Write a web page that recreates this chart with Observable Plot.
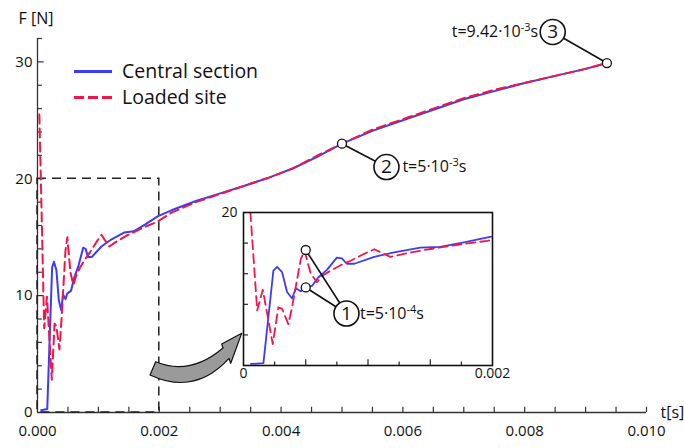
<!DOCTYPE html>
<html><head><meta charset="utf-8">
<script src="https://cdn.jsdelivr.net/npm/d3@7"></script>
<script src="https://cdn.jsdelivr.net/npm/@observablehq/plot@0.6"></script>
<style>
body{margin:0;background:#fff;}
#wrap{position:relative;width:684px;height:448px;}
#wrap svg{position:absolute;}
</style></head><body><div id="wrap"></div>
<script>
// ---- data ----
const centralT = [0.00006, 0.00016, 0.00024, 0.00027, 0.00031, 0.00035, 0.00039, 0.00042, 0.00046, 0.00049, 0.00055, 0.0006, 0.00067, 0.00075, 0.00079, 0.00083, 0.00089, 0.00105, 0.00121, 0.00142, 0.00158, 0.00177, 0.00198, 0.0022, 0.0026, 0.003, 0.0034, 0.0038, 0.0042, 0.0046, 0.005, 0.0055, 0.006, 0.0065, 0.007, 0.0075, 0.008, 0.0085, 0.009, 0.00935];
const centralF = [0.2, 0.3, 12.4, 12.9, 12.2, 9.6, 8.75, 10.1, 9.7, 10.2, 10.4, 11.5, 12.5, 14.1, 14.0, 13.3, 13.3, 14.2, 14.8, 15.4, 15.5, 16.1, 16.8, 17.3, 18.1, 18.75, 19.4, 20.1, 20.9, 21.9, 23.0, 24.1, 25.0, 25.9, 26.8, 27.5, 28.2, 28.8, 29.4, 29.9];
const loadedT = [0.00003, 0.000056, 0.00011, 0.000155, 0.000235, 0.00028, 0.00031, 0.00036, 0.00039, 0.00046, 0.00049, 0.00054, 0.00059, 0.00064, 0.0007, 0.00078, 0.00086, 0.00097, 0.00105, 0.0011, 0.00118, 0.00129, 0.00145, 0.00161, 0.00177, 0.00196, 0.0022, 0.0026, 0.003, 0.0034, 0.0038, 0.0042, 0.0046, 0.005, 0.0055, 0.006, 0.0065, 0.007, 0.0075, 0.008, 0.0085, 0.009, 0.00935];
const loadedF = [25.5, 19.8, 7.2, 9.9, 2.8, 7.6, 7.4, 5.4, 7.6, 13.9, 15.0, 12.0, 10.9, 11.8, 12.4, 13.1, 13.7, 14.6, 15.2, 14.8, 14.2, 14.6, 15.1, 15.5, 15.9, 16.3, 17.1, 18.0, 18.7, 19.4, 20.1, 20.9, 22.0, 23.0, 24.2, 25.1, 26.0, 26.9, 27.6, 28.2, 28.8, 29.4, 29.9];
const seriesNames = ["Central section", "Loaded site"];
const xTickLabels = [0, 0.002, 0.004, 0.006, 0.008, 0.010];
const yTickLabels = [0, 10, 20, 30];
const insetXLabels = [0, 0.002];
const insetYLabels = [20];
// annotation markers (time, force of marked point; label circle; text)
const mainMarks = [
  {n: "2", t: 0.005, F: 23.0, ct: 0.00573, cF: 21.0, tt: 0.006, base: "t=5·10", exp: "-3", anchor: "start"},
  {n: "3", t: 0.00935, F: 29.9, ct: 0.00846, cF: 32.56, tt: 0.00823, base: "t=9.42·10", exp: "-3", anchor: "end"}
];
const insetMarks = [
  {n: "1", pts: [{t: 0.0005, F: 15.1}, {t: 0.0005, F: 10.2}], ct: 0.000827, cF: 6.8, tt: 0.00094, base: "t=5·10", exp: "-4"}
];
// curved arrow outline (data units of main chart)
const arrowPts = {
  a: [0.001949, 4.30], c1: [0.002512, 3.08], b: [0.003054, 5.48],
  w1: [0.003033, 5.82], tip: [0.003361, 6.73], w2: [0.003181, 4.17],
  d: [0.003153, 4.58], c2: [0.002594, 1.37], e: [0.001856, 3.17]
};

const central = centralT.map((t, i) => ({t, F: centralF[i]}));
const loaded = loadedT.map((t, i) => ({t, F: loadedF[i]}));

const BLUE = "#3c3cf6", RED = "#f0164a", AX = "#333", FONT = "'Open Sans', sans-serif";

const xMinor = d3.range(1, 21).map(i => i * 0.0005);
const yMinor = d3.range(1, 17).map(i => i * 2);

const main = Plot.plot({
  width: 684, height: 448,
  marginLeft: 37, marginRight: 38, marginTop: 38, marginBottom: 36,
  x: {domain: [0, 0.010]},
  y: {domain: [0, 32]},
  style: {fontFamily: FONT, fontSize: "15px", color: "#111", background: "transparent", overflow: "visible"},
  marks: [
    Plot.ruleY([0], {stroke: AX, strokeWidth: 1.3}),
    Plot.ruleX([0], {stroke: AX, strokeWidth: 1.3}),
    Plot.ruleX(xMinor, {x: d => d, y1: () => 0, y2: () => 0.45, stroke: AX, strokeWidth: 1.2}),
    Plot.ruleY(yMinor, {y: d => d, x1: () => 0, x2: d => d % 10 === 0 ? 0.00011 : 0.00008, stroke: AX, strokeWidth: 1.2}),
    Plot.rect([0], {x1: () => 0, x2: () => 0.002, y1: () => 0, y2: () => 20, fill: "none", stroke: "#222", strokeWidth: 1.5, strokeDasharray: "9,6"}),
    Plot.line(central, {x: "t", y: "F", stroke: BLUE, strokeWidth: 2}),
    Plot.line(loaded, {x: "t", y: "F", stroke: RED, strokeWidth: 2, strokeDasharray: "9,5"}),
    Plot.link(mainMarks, {x1: "t", y1: "F", x2: "ct", y2: "cF", stroke: "#111", strokeWidth: 1.6}),
    Plot.dot(mainMarks, {x: "t", y: "F", r: 4.5, fill: "white", stroke: "#111", strokeWidth: 1.3}),
    Plot.dot(mainMarks, {x: "ct", y: "cF", r: 12.5, fill: "white", stroke: "#111", strokeWidth: 1.6}),
    Plot.text(mainMarks, {x: "ct", y: "cF", text: "n", fontSize: 19, fill: "#111"}),
    Plot.axisX({ticks: xTickLabels, tickSize: 0, tickPadding: 13, tickFormat: d3.format(".3f"), fontSize: 15, label: null}),
    Plot.axisY({ticks: yTickLabels, tickSize: 0, tickPadding: 5, fontSize: 15, label: null}),
    Plot.text(["F [N]"], {x: () => 0, y: () => 32, dx: -19, dy: -20, textAnchor: "start", fontSize: 16, fill: "#111"}),
    Plot.text(["t[s]"], {x: () => 0.010, y: () => 0, dx: 14, textAnchor: "start", fontSize: 16, fill: "#111"})
  ]
});

const wrap = document.getElementById("wrap");
main.style.left = "0px"; main.style.top = "0px";
wrap.appendChild(main);

function supText(sel, x, y, base, exp, anchor) {
  const t = sel.append("text").attr("x", x).attr("y", y).attr("text-anchor", anchor)
    .attr("font-family", FONT).attr("font-size", 16).attr("fill", "#111").attr("dy", "0.35em");
  t.append("tspan").text(base);
  t.append("tspan").attr("dy", -6).attr("font-size", 11).text(exp);
  t.append("tspan").attr("dy", 6).text("s");
}

{
  const sx = main.scale("x"), sy = main.scale("y");
  const P = k => [sx.apply(arrowPts[k][0]), sy.apply(arrowPts[k][1])];
  const g = d3.select(main).append("g");
  const [a, c1, b, w1, tip, w2, dd, c2, e] = ["a", "c1", "b", "w1", "tip", "w2", "d", "c2", "e"].map(P);
  g.append("path")
    .attr("d", `M${a}Q${c1} ${b}L${w1}L${tip}L${w2}L${dd}Q${c2} ${e}Z`)
    .attr("fill", "#9a9a9a").attr("stroke", "#111").attr("stroke-width", 1.2).attr("stroke-linejoin", "round");
  for (const m of mainMarks) supText(g, sx.apply(m.tt), sy.apply(m.cF), m.base, m.exp, m.anchor);
  // legend
  const L = g.append("g");
  L.append("line").attr("x1", 74).attr("x2", 112).attr("y1", 71.5).attr("y2", 71.5).attr("stroke", BLUE).attr("stroke-width", 3);
  L.append("line").attr("x1", 74).attr("x2", 112).attr("y1", 97.5).attr("y2", 97.5).attr("stroke", RED).attr("stroke-width", 3).attr("stroke-dasharray", "10,4");
  seriesNames.forEach((s, i) => L.append("text").attr("x", 122).attr("y", i ? 97.5 : 71.5).attr("dy", "0.35em")
    .attr("text-anchor", "start").attr("font-family", FONT).attr("font-size", 19.5).attr("fill", "#111").text(s));
}

// ---- inset ----
const ixMinor = d3.range(1, 8).map(i => i * 0.00025);
const iyMinor = d3.range(1, 5).map(i => i * 4);
const inset = Plot.plot({
  width: 300, height: 190,
  marginLeft: 30, marginRight: 21, marginTop: 10, marginBottom: 27,
  x: {domain: [0, 0.002]},
  y: {domain: [0, 20]},
  style: {fontFamily: FONT, fontSize: "14px", color: "#111", background: "transparent", overflow: "visible"},
  marks: [
    Plot.frame({fill: "white", stroke: "none"}),
    Plot.ruleX(ixMinor, {x: d => d, y1: () => 0, y2: (d, i) => i % 2 ? 0.75 : 0.45, stroke: "#111", strokeWidth: 1.1}),
    Plot.ruleY(iyMinor, {y: d => d, x1: () => 0, x2: () => 0.00004, stroke: "#111", strokeWidth: 1.1}),
    Plot.line(central, {x: "t", y: "F", stroke: BLUE, strokeWidth: 1.8, clip: true}),
    Plot.line(loaded, {x: "t", y: "F", stroke: RED, strokeWidth: 1.8, strokeDasharray: "9,5", clip: true}),
    Plot.frame({stroke: "#111", strokeWidth: 1.6}),
    Plot.axisX({ticks: insetXLabels, tickSize: 0, tickPadding: 3, tickFormat: d => d === 0 ? "0" : "0.002", fontSize: 14, label: null}),
    Plot.axisY({ticks: insetYLabels, tickSize: 0, tickPadding: 6, fontSize: 14, label: null}),
    Plot.link(insetMarks.flatMap(m => m.pts.map(p => ({...p, ct: m.ct, cF: m.cF}))), {x1: "t", y1: "F", x2: "ct", y2: "cF", stroke: "#111", strokeWidth: 1.6}),
    Plot.dot(insetMarks.flatMap(m => m.pts), {x: "t", y: "F", r: 4.5, fill: "white", stroke: "#111", strokeWidth: 1.3}),
    Plot.dot(insetMarks, {x: "ct", y: "cF", r: 12.5, fill: "white", stroke: "#111", strokeWidth: 1.6}),
    Plot.text(insetMarks, {x: "ct", y: "cF", text: "n", fontSize: 19, fill: "#111"})
  ]
});
inset.style.left = "213px"; inset.style.top = "202px";
wrap.appendChild(inset);
{
  const sx = inset.scale("x"), sy = inset.scale("y");
  const g = d3.select(inset).append("g");
  for (const m of insetMarks) supText(g, sx.apply(m.tt), sy.apply(m.cF), m.base, m.exp, "start");
}
</script></body></html>
